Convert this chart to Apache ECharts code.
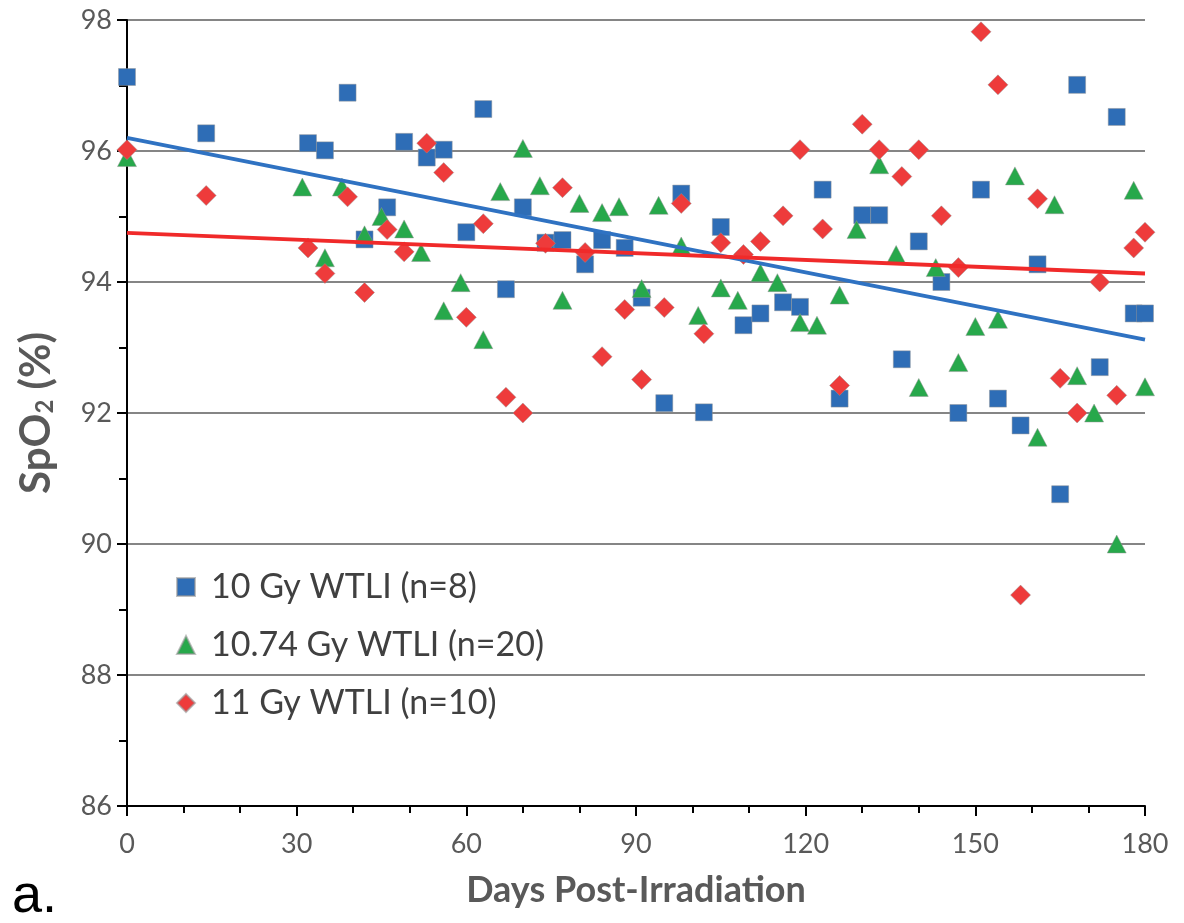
<!DOCTYPE html>
<html>
<head>
<meta charset="utf-8">
<script src="https://cdn.jsdelivr.net/npm/echarts@6/dist/echarts.min.js"></script>
<style>
  html, body { margin: 0; padding: 0; background: #fff; }
  #chart { width: 1184px; height: 923px; }
</style>
</head>
<body>
<div id="chart"></div>
<script>
// SpO2 by day after whole-thorax lung irradiation, three dose groups
const days10Gy = [0,14,32,35,39,42,46,49,53,56,60,63,67,70,74,77,81,84,88,91,95,98,102,105,109,112,116,119,123,126,130,133,137,140,144,147,151,154,158,161,165,168,172,175,178,180];
const spo2_10Gy = [97.13,96.27,96.12,96.01,96.89,94.65,95.14,96.14,95.9,96.02,94.76,96.64,93.89,95.14,94.6,94.64,94.27,94.64,94.52,93.76,92.15,95.35,92.01,94.84,93.34,93.52,93.69,93.62,95.41,92.22,95.02,95.02,92.82,94.62,94.0,92.0,95.41,92.22,91.81,94.27,90.76,97.01,92.7,96.52,93.52,93.52];

const days1074Gy = [0,31,35,38,42,45,49,52,56,59,63,66,70,73,77,80,84,87,91,94,98,101,105,108,112,115,119,122,126,129,133,136,140,143,147,150,154,157,161,164,168,171,175,178,180];
const spo2_1074Gy = [95.9,95.45,94.37,95.45,94.72,95.0,94.81,94.45,93.56,93.99,93.12,95.38,96.04,95.47,93.72,95.2,95.06,95.15,93.9,95.17,94.55,93.49,93.91,93.72,94.14,93.99,93.38,93.34,93.8,94.8,95.79,94.42,92.39,94.22,92.77,93.32,93.43,95.62,91.63,95.18,92.57,92.0,90.0,95.4,92.4];

const days11Gy = [0,14,32,35,39,42,46,49,53,56,60,63,67,70,74,77,81,84,88,91,95,98,102,105,109,112,116,119,123,126,130,133,137,140,144,147,151,154,158,161,165,168,172,175,178,180];
const spo2_11Gy = [96.02,95.32,94.52,94.13,95.3,93.84,94.8,94.46,96.12,95.67,93.46,94.89,92.24,92.0,94.59,95.44,94.45,92.86,93.58,92.51,93.61,95.2,93.21,94.6,94.42,94.62,95.01,96.02,94.81,92.42,96.41,96.02,95.61,96.02,95.01,94.22,97.82,97.01,89.22,95.27,92.53,92.0,94.0,92.27,94.52,94.76];

// linear trend endpoints (day 0 and day 180)
const trendDays = [0, 180];
const trend10Gy = [96.2, 93.12];
const trend11Gy = [94.75, 94.13];

const seriesNames = ['10 Gy WTLI (n=8)', '10.74 Gy WTLI (n=20)', '11 Gy WTLI (n=10)'];
const xTicks = [0, 30, 60, 90, 120, 150, 180];
const yTicks = [86, 88, 90, 92, 94, 96, 98];

const FONT = 'Lato, "Open Sans", sans-serif';
const TEXT_GREY = '#595959';

function pairs(xs, ys) { return xs.map((x, i) => [x, ys[i]]); }

const chart = echarts.init(document.getElementById('chart'), null, { renderer: 'canvas' });

const option = {
  backgroundColor: '#ffffff',
  animation: false,
  textStyle: { fontFamily: FONT },
  grid: { left: 127, right: 39, top: 20, bottom: 117, containLabel: false },
  legend: {
    orient: 'vertical',
    left: 171,
    top: 564,
    itemWidth: 18,
    itemHeight: 18,
    itemGap: 22,
    data: seriesNames,
    textStyle: { fontFamily: FONT, fontSize: 34, color: '#404040', lineHeight: 36, padding: [0, 0, 0, 11] }
  },
  xAxis: {
    type: 'value',
    min: xTicks[0],
    max: xTicks[xTicks.length - 1],
    interval: 30,
    axisLine: { show: true, lineStyle: { color: '#000', width: 2 } },
    axisTick: { show: true, length: 10, lineStyle: { color: '#000', width: 2 } },
    minorTick: { show: true, splitNumber: 3, length: 7, lineStyle: { color: '#000', width: 2 } },
    splitLine: { show: false },
    axisLabel: { fontFamily: FONT, fontSize: 27, color: TEXT_GREY, margin: 25 },
    name: 'Days Post-Irradiation',
    nameLocation: 'middle',
    nameGap: 66,
    nameTextStyle: { fontFamily: FONT, fontSize: 36, fontWeight: 'bold', color: TEXT_GREY }
  },
  yAxis: {
    type: 'value',
    min: yTicks[0],
    max: yTicks[yTicks.length - 1],
    interval: 2,
    axisLine: { show: true, onZero: false, lineStyle: { color: '#000', width: 2 } },
    axisTick: { show: true, length: 10, lineStyle: { color: '#000', width: 2 } },
    minorTick: { show: true, splitNumber: 2, length: 8, lineStyle: { color: '#000', width: 2 } },
    splitLine: { show: true, lineStyle: { color: '#858585', width: 2 } },
    axisLabel: { fontFamily: FONT, fontSize: 27, color: TEXT_GREY, margin: 15 },
    name: '{b|SpO}{s|2}{b| (%)}',
    nameLocation: 'middle',
    nameGap: 70,
    nameTextStyle: {
      rich: {
        b: { fontFamily: FONT, fontSize: 42, fontWeight: 'bold', color: TEXT_GREY },
        s: { fontFamily: FONT, fontSize: 24, fontWeight: 'bold', color: TEXT_GREY, padding: [18, 0, 0, 0] }
      }
    }
  },
  series: [
    {
      name: seriesNames[0], type: 'scatter', symbol: 'rect', symbolSize: 17,
      data: pairs(days10Gy, spo2_10Gy),
      itemStyle: { color: '#2E6DB6', borderColor: 'rgba(150,150,150,0.6)', borderWidth: 0.8, opacity: 1 },
      z: 3
    },
    {
      name: seriesNames[1], type: 'scatter', symbol: 'triangle', symbolSize: [19, 18],
      data: pairs(days1074Gy, spo2_1074Gy),
      itemStyle: { color: '#27A84B', borderColor: 'rgba(150,150,150,0.6)', borderWidth: 0.8, opacity: 1 },
      z: 4
    },
    {
      name: seriesNames[2], type: 'scatter', symbol: 'diamond', symbolSize: [20, 20],
      data: pairs(days11Gy, spo2_11Gy),
      itemStyle: { color: '#EE3B3B', borderColor: 'rgba(150,150,150,0.6)', borderWidth: 0.8, opacity: 1 },
      z: 5
    },
    {
      name: 'trend10', type: 'line', data: pairs(trendDays, trend10Gy),
      symbol: 'none', silent: true, z: 6,
      lineStyle: { color: '#2F72C2', width: 4 }
    },
    {
      name: 'trend11', type: 'line', data: pairs(trendDays, trend11Gy),
      symbol: 'none', silent: true, z: 7,
      lineStyle: { color: '#F02A2A', width: 4 }
    }
  ],
  graphic: [
    {
      type: 'text', left: 12, top: 870, silent: true,
      style: { text: 'a.', fontFamily: 'Liberation Sans, Arial, sans-serif', fontSize: 54, fill: '#000' }
    }
  ]
};

chart.setOption(option);
</script>
</body>
</html>
